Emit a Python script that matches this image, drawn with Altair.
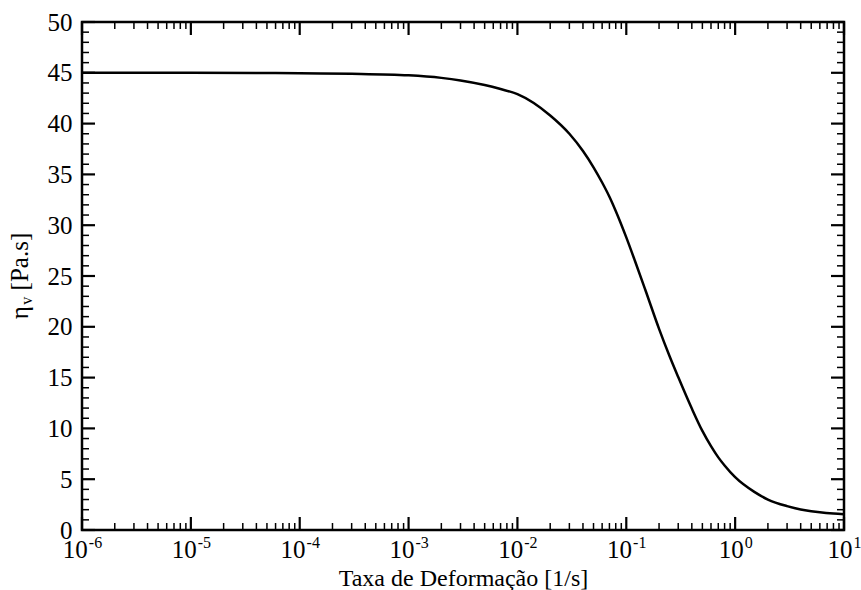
import altair as alt
import pandas as pd

# ---- data ----
rate = [1e-6, 1e-5, 1e-4, 3e-4, 1e-3, 2e-3, 3e-3, 5e-3, 7e-3, 0.01, 0.02, 0.03,
        0.04, 0.05, 0.06, 0.07, 0.08, 0.1, 0.12, 0.15, 0.2, 0.25, 0.3,
        0.4, 0.5, 0.6, 0.7, 0.8, 1.0, 1.5, 2.0, 3.0, 4.0, 5.0, 6.0, 8.0, 10.0]
visc = [45.0, 45.0, 44.95, 44.9, 44.75, 44.5, 44.25, 43.8, 43.4, 42.9, 40.8, 39.0,
        37.3, 35.7, 34.2, 32.8, 31.4, 28.8, 26.5, 23.6, 19.8, 17.1, 15.05,
        11.95, 9.75, 8.25, 7.15, 6.35, 5.2, 3.75, 3.0, 2.35, 2.02, 1.85, 1.74, 1.62, 1.56]

y_major = list(range(0, 51, 5))
y_minor = [v for v in range(0, 51) if v % 5]
x_exps = [-6, -5, -4, -3, -2, -1, 0, 1]
x_major = [10.0 ** e for e in x_exps]
x_minor = [m * 10.0 ** e for e in x_exps[:-1] for m in range(2, 10)]
x_title = "Taxa de Deformação [1/s]"
y_title_parts = ["η", "v", "[Pa.s]"]

W, H = 762, 508
FONT = "Liberation Serif"
FS = 25
FS_TITLE = 24
FS_SMALL = 16

xscale = alt.Scale(type="log", domain=[1e-6, 10], nice=False)
yscale = alt.Scale(domain=[0, 50], nice=False, zero=False)
xaxis = alt.Axis(labels=False, ticks=False, domain=False, grid=False,
                 title=x_title, titleFont=FONT, titleFontSize=FS_TITLE,
                 titleFontWeight="normal", titleColor="black",
                 titleBaseline="alphabetic", titleY=55)
yaxis = alt.Axis(values=y_major, ticks=False, domain=False, grid=False,
                 title=None, labelFont=FONT, labelFontSize=FS,
                 labelColor="black", labelPadding=10)


def X(f):
    return alt.X(f"{f}:Q", scale=xscale, axis=xaxis)


def Y(f):
    return alt.Y(f"{f}:Q", scale=yscale, axis=yaxis)


curve = pd.DataFrame({"rate": rate, "visc": visc})
line = alt.Chart(curve).mark_line(color="black", strokeWidth=2.5,
                                  interpolate="monotone").encode(
    x=X("rate"), y=Y("visc"))

ymaj = pd.DataFrame({"v": y_major})
ymin = pd.DataFrame({"v": y_minor})
xmaj = pd.DataFrame({"v": x_major})
xmin = pd.DataFrame({"v": x_minor})

MAJ, MIN = 13, 7
layers = [line]
for df, L, sw in [(ymaj, MAJ, 2.2), (ymin, MIN, 1.5)]:
    layers.append(alt.Chart(df).mark_rule(color="black", strokeWidth=sw).encode(
        y=Y("v"), x=alt.value(0), x2=alt.value(L)))
    layers.append(alt.Chart(df).mark_rule(color="black", strokeWidth=sw).encode(
        y=Y("v"), x=alt.value(W), x2=alt.value(W - L)))
for df, L, sw in [(xmaj, MAJ, 2.2), (xmin, MIN, 1.5)]:
    layers.append(alt.Chart(df).mark_rule(color="black", strokeWidth=sw).encode(
        x=X("v"), y=alt.value(H), y2=alt.value(H - L)))
    layers.append(alt.Chart(df).mark_rule(color="black", strokeWidth=sw).encode(
        x=X("v"), y=alt.value(0), y2=alt.value(L)))

# x tick labels as 10 with superscript exponent
neg = pd.DataFrame({"v": [10.0 ** e for e in x_exps if e < 0],
                    "base": ["10" for e in x_exps if e < 0],
                    "exp": [str(e) for e in x_exps if e < 0]})
pos = pd.DataFrame({"v": [10.0 ** e for e in x_exps if e >= 0],
                    "base": ["10" for e in x_exps if e >= 0],
                    "exp": [str(e) for e in x_exps if e >= 0]})
w10 = FS * 1.0
for df, wexp in [(neg, FS_SMALL * 0.833), (pos, FS_SMALL * 0.5)]:
    d = (w10 - wexp) / 2
    layers.append(alt.Chart(df).mark_text(
        font=FONT, fontSize=FS, align="right", baseline="alphabetic",
        dx=d, color="black").encode(x=X("v"), y=alt.value(H + 28), text="base:N"))
    layers.append(alt.Chart(df).mark_text(
        font=FONT, fontSize=FS_SMALL, align="left", baseline="alphabetic",
        dx=d + 1, color="black").encode(x=X("v"), y=alt.value(H + 18), text="exp:N"))

# y title: eta with subscript v, rotated
w_eta = FS * 0.5
w_v = FS_SMALL * 0.5
w_rest = FS * 2.3
gap = FS * 0.25
total = w_eta + w_v + gap + w_rest + 2
y0 = H / 2 + total / 2
xb = -54
parts = [
    (y_title_parts[0], FS, xb, y0),
    (y_title_parts[1], FS_SMALL, xb + 4, y0 - w_eta - 2),
    (y_title_parts[2], FS, xb, y0 - w_eta - 2 - w_v - gap),
]
for txt, fs, xx, yy in parts:
    layers.append(alt.Chart(pd.DataFrame({"t": [txt]})).mark_text(
        font=FONT, fontSize=fs, angle=270, align="left", baseline="alphabetic",
        color="black").encode(x=alt.value(xx), y=alt.value(yy), text="t:N"))

chart = alt.layer(*layers).properties(
    width=W, height=H,
    autosize=alt.AutoSizeParams(type="none"),
    padding={"left": 82, "top": 22, "right": 17, "bottom": 60},
    background="white",
).configure_view(stroke="black", strokeWidth=2.5)

chart.save("out.html", embed_options={"renderer": "svg", "actions": False})
